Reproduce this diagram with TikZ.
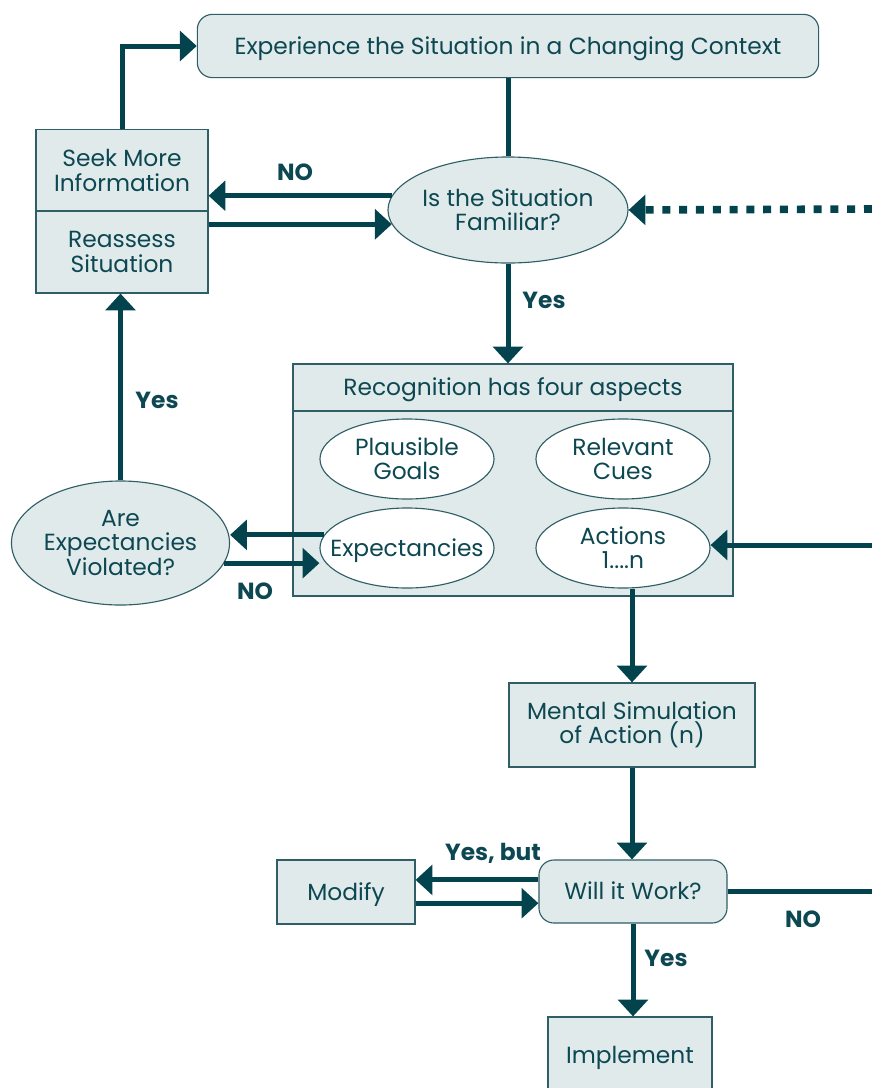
\documentclass[tikz,border=0pt]{standalone}
\usepackage{fontspec}
\setmainfont{Poppins}
\usetikzlibrary{arrows.meta,shapes.geometric}
\begin{document}
\begin{tikzpicture}[x=0.025cm, y=-0.025cm,
  every node/.style={text=ink, font=\fontsize{16.6}{17.2}\selectfont, align=center, inner sep=0pt},
  oneline/.style={text height=0.5cm, text depth=0.1cm},
  boxnode/.style={draw=rim, fill=pale, line width=0.8pt, rectangle},
  roundnode/.style={boxnode, rounded corners=0.375cm},
  ovalnode/.style={draw=rim, fill=pale, line width=0.8pt, ellipse, inner xsep=-0.2cm},
  aspect/.style={ovalnode, fill=white, inner xsep=-0.4cm, minimum width=4.35cm, minimum height=2cm},
  flow/.style={draw=wire, line width=0.125cm, -{Triangle[length=0.42cm,width=0.74cm]}},
  flowline/.style={draw=wire, line width=0.125cm},
  dotflow/.style={flow, line width=0.19cm, dash pattern=on 0.2cm off 0.22cm},
  answer/.style={font=\fontsize{16.6}{17.2}\selectfont\bfseries}]
\definecolor{wire}{HTML}{03434E}
\definecolor{rim}{HTML}{2F5E67}
\definecolor{pale}{HTML}{E0EAEB}
\definecolor{ink}{HTML}{0D4852}
\clip (0,0) rectangle (872,1088);
\node[roundnode, oneline, minimum width=15.53cm, minimum height=1.58cm] (exp) at (508,46) {Experience the Situation in a Changing Context};
\node[boxnode, minimum width=4.3cm, minimum height=2.03cm] (seek) at (122,170.5) {Seek More\\Information};
\node[boxnode, minimum width=4.3cm, minimum height=2.05cm] (reassess) at (122,252) {Reassess\\Situation};
\node[ovalnode, minimum width=6cm, minimum height=2.65cm] (fam) at (508,210) {Is the Situation\\Familiar?};
\node[boxnode, oneline, minimum width=11cm, minimum height=1.175cm] (rechead) at (513,387.5) {Recognition has four aspects};
\node[boxnode, minimum width=11cm, minimum height=4.625cm] (recbody) at (513,503.5) {};
\node[aspect] (goals) at (407,459) {Plausible\\Goals};
\node[aspect] (cues) at (623,459) {Relevant\\Cues};
\node[aspect, oneline] (expect) at (407,548) {Expectancies};
\node[aspect] (actions) at (623,548) {Actions\\1....n};
\node[ovalnode, minimum width=5.45cm, minimum height=3.1cm] (violated) at (120.5,543) {Are\\Expectancies\\Violated?};
\node[boxnode, minimum width=6.15cm, minimum height=2.1cm] (mental) at (632,725) {Mental Simulation\\of Action (n)};
\node[roundnode, oneline, minimum width=4.7cm, minimum height=1.575cm] (will) at (633,891.5) {Will it Work?};
\node[boxnode, oneline, minimum width=3.45cm, minimum height=1.6cm] (modify) at (346,892) {Modify};
\node[boxnode, oneline, minimum width=4.1cm, minimum height=1.9cm] (implement) at (630,1055) {Implement};
\coordinate (edgefam) at (872,209);
\coordinate (edgeact) at (872,545);
\coordinate (edgewill) at (872,893);
\draw[flow] (seek.north) |- (exp.west);
\draw[flowline] (exp.south) -- (fam.north);
\draw[flow] (fam.173) -- (fam.173 -| seek.east);
\draw[flow] (fam.187 -| reassess.east) -- (fam.187);
\draw[dotflow] (edgefam) -- (fam.east);
\draw[flow] (fam.south) -- (fam.south |- rechead.north);
\draw[flow] (violated.north) -- (violated.north |- reassess.south);
\draw[flow] (expect.171) -- (expect.171 -| violated.east);
\draw[flow] (violated.-11) -- (violated.-11 -| expect.west);
\draw[flow] (edgeact) -- (edgeact -| actions.east);
\draw[flow] (mental.north |- actions.south) -- (mental.north);
\draw[flow] (mental.south) -- (mental.south |- will.north);
\draw[flow] ([yshift=0.29cm]will.west) -- ([yshift=0.29cm]will.west -| modify.east);
\draw[flow] ([yshift=-0.28cm]modify.east) -- ([yshift=-0.28cm]modify.east -| will.west);
\draw[flowline] (will.east) -- (will.east -| edgewill);
\draw[flow] (will.south) -- (will.south |- implement.north);
\node[answer] (nofam) at (295,172) {NO};
\node[answer] (yesfam) at (544,300) {Yes};
\node[answer] (yesviol) at (157,400) {Yes};
\node[answer] (noviol) at (255,591) {NO};
\node[answer] (yesbut) at (493,853) {Yes, but};
\node[answer] (nowill) at (803,919) {NO};
\node[answer] (yeswill) at (666,958) {Yes};
\end{tikzpicture}
\end{document}
